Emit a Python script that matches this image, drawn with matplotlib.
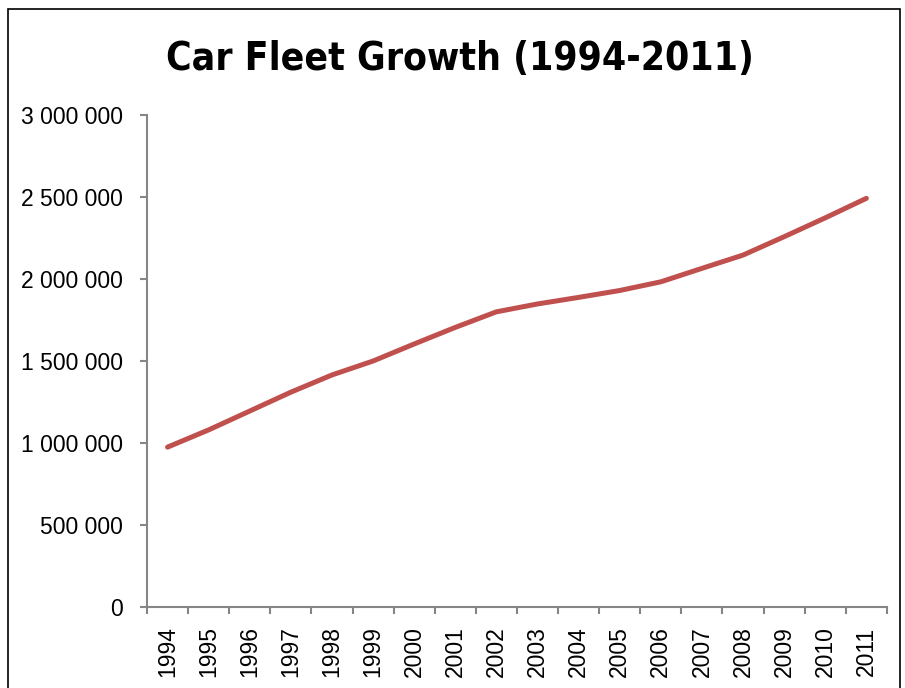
import matplotlib.pyplot as plt
from matplotlib.ticker import FuncFormatter, FixedLocator
from matplotlib.patches import Rectangle

years = [str(y) for y in range(1994, 2012)]
cars = [975000, 1080000, 1195000, 1310000, 1415000, 1500000, 1604000, 1705000,
        1800000, 1848000, 1888000, 1930000, 1983000, 2065000, 2146000, 2258000,
        2373000, 2492000]

plt.rcParams['font.family'] = ['Liberation Sans', 'DejaVu Sans']

fig = plt.figure(figsize=(9.05, 6.88), dpi=100)
ax = fig.add_axes([0.1624, 0.1177, 0.8176, 0.7151])

x = list(range(len(years)))
ax.plot(x, cars, color='#C0504D', linewidth=3.6, solid_capstyle='round')

ax.set_xlim(-0.5, len(years) - 0.5)
ax.set_ylim(0, 3000000)
ax.set_yticks(range(0, 3000001, 500000))
ax.yaxis.set_major_formatter(FuncFormatter(lambda v, p: f"{int(v):,}".replace(",", " ")))

ax.set_xticks(x)
ax.set_xticklabels(years, rotation=90)
ax.xaxis.set_minor_locator(FixedLocator([i - 0.5 for i in range(len(years) + 1)]))
ax.tick_params(axis='x', which='major', length=0, pad=14, labelsize=16.5)
ax.tick_params(axis='x', which='minor', length=5, color='#868686', width=1.5)
ax.tick_params(axis='y', length=5, color='#868686', width=1.5, labelsize=16.5, pad=12)

for side in ['top', 'right']:
    ax.spines[side].set_visible(False)
for side in ['left', 'bottom']:
    ax.spines[side].set_color('#868686')
    ax.spines[side].set_linewidth(1.5)

fig.text(0.508, 0.914, 'Car Fleet Growth (1994-2011)', ha='center', va='center',
         fontsize=28, fontweight='bold', fontstretch='condensed',
         family=['DejaVu Sans'])

fig.patches.append(Rectangle((8 / 905, -0.05), 892 / 905, 1 - 9 / 688 + 0.05,
                             transform=fig.transFigure, fill=False,
                             edgecolor='black', linewidth=1.2))

fig.savefig('out.png', dpi=100)
